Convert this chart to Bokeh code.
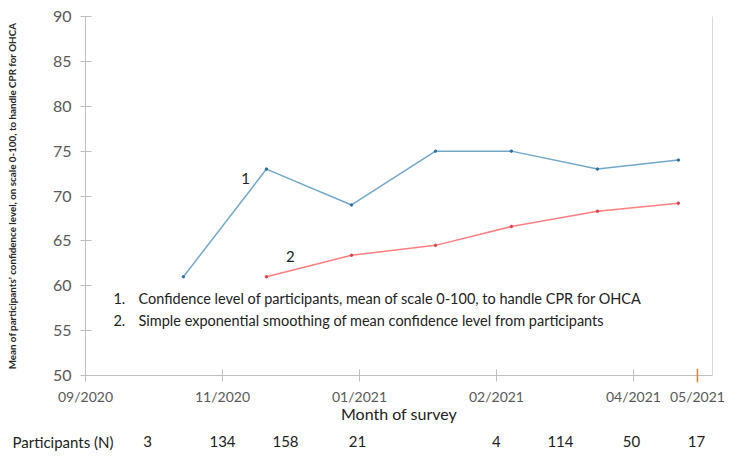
from bokeh.plotting import figure
from bokeh.models import Range1d, LinearAxis, FixedTicker, Arrow
from bokeh.core.properties import value
from bokeh.embed import file_html
from bokeh.resources import INLINE

# ---- data (x in "axis tick units": each tick step = one labelled survey mark)
tick_pos = [0, 1, 2, 3, 4]
tick_labels = ["09/2020", "11/2020", "01/2021", "02/2021", "04/2021"]
extra_tick_pos = 4.467
extra_tick_label = "05/2021"
y_ticks = [50, 55, 60, 65, 70, 75, 80, 85, 90]

conf_x = [0.715, 1.321, 1.942, 2.555, 3.109, 3.737, 4.328]
conf_y = [61.0, 73.0, 69.0, 75.0, 75.0, 73.0, 74.0]

ses_x = [1.321, 1.942, 2.555, 3.109, 3.737, 4.328]
ses_y = [61.0, 63.4, 64.5, 66.6, 68.3, 69.2]

part_x = [0.453, 1.0, 1.46, 1.985, 3.0, 3.467, 3.985, 4.46]
part_n = ["3", "134", "158", "21", "4", "114", "50", "17"]
part_title = "Participants (N)"

legend_lines = [
    "Confidence level of participants, mean of scale 0-100, to handle CPR for OHCA",
    "Simple exponential smoothing of mean confidence level from participants",
]

FONT = "Lato"
AX = "#bfbfbf"
TXT = "#595959"
DARK = "#222222"

# axis extents in data units
X0, X1 = 0.0, 4.577
Y0, Y1 = 50.0, 90.0
# canvas layout (pixels) -> data ranges covering the whole canvas
W, H = 731, 456
L, R, T, B = 85, 712, 16, 375
ux = (R - L) / (X1 - X0)
uy = (B - T) / (Y1 - Y0)

p = figure(width=W, height=H, output_backend="svg", toolbar_location=None,
           x_range=Range1d(X0 - L / ux, X1 + (W - R) / ux),
           y_range=Range1d(Y0 - (H - B) / uy, Y1 + T / uy),
           min_border_left=0, min_border_top=0, min_border_right=0, min_border_bottom=0)
p.outline_line_color = None
p.grid.grid_line_color = None

# x axis
xa = p.xaxis[0]
xa.fixed_location = Y0
xa.bounds = (X0, X1)
xa.ticker = FixedTicker(ticks=tick_pos + [extra_tick_pos])
xa.major_label_overrides = {**{t: l for t, l in zip(tick_pos, tick_labels)}, extra_tick_pos: extra_tick_label}
xa.minor_tick_line_color = None
xa.axis_line_color = AX
xa.major_tick_line_color = AX
xa.major_tick_in = 6
xa.major_tick_out = 6
xa.major_label_standoff = 6
xa.major_label_text_font = FONT
xa.major_label_text_font_size = "14px"
xa.major_label_text_color = TXT
xa.axis_label = "Month of survey"
xa.axis_label_text_font = FONT
xa.axis_label_text_font_size = "16px"
xa.axis_label_text_font_style = "normal"
xa.axis_label_text_color = DARK
xa.axis_label_standoff = -4

# y axis
ya = p.yaxis[0]
ya.fixed_location = X0
ya.bounds = (Y0, Y1)
ya.ticker = FixedTicker(ticks=y_ticks)
ya.minor_tick_line_color = None
ya.axis_line_color = AX
ya.major_tick_line_color = AX
ya.major_tick_in = 6
ya.major_tick_out = 5
ya.major_label_standoff = 9
ya.major_label_text_font = FONT
ya.major_label_text_font_size = "16px"
ya.major_label_text_color = TXT
ya.axis_label = "Mean of participants\u2019 confidence level, on scale 0-100, to handle CPR for OHCA"
ya.axis_label_text_font = FONT
ya.axis_label_text_font_size = "9.8px"
ya.axis_label_text_font_style = "bold"
ya.axis_label_text_color = "#262626"
ya.axis_label_standoff = 32

# right frame line
ra = LinearAxis(ticker=FixedTicker(ticks=[]), axis_line_color="#d9d9d9",
                fixed_location=X1, bounds=(Y0, Y1),
                major_label_text_font_size="0px", major_tick_line_color=None,
                minor_tick_line_color=None)
p.add_layout(ra, "right")

# orange tick for 05/2021
p.add_layout(Arrow(x_start=extra_tick_pos, y_start=Y0 + 0.75, x_end=extra_tick_pos, y_end=Y0 - 0.75,
                   end=None, start=None, line_color="#ed7d31", line_width=1.5))

# series
p.line(conf_x, conf_y, line_color="#74a7c8", line_width=1.5)
p.scatter(conf_x, conf_y, size=2.5, color="#2e6f9e")
p.line(ses_x, ses_y, line_color="#ff8080", line_width=1.5)
p.scatter(ses_x, ses_y, size=2.5, color="#e0404a")

# series tags
p.text(x=[1.168], y=[71.9], text=["1"], text_font=value(FONT), text_font_size="15px",
       text_color=DARK, text_align="center", text_baseline="middle")
p.text(x=[1.496], y=[63.3], text=["2"], text_font=value(FONT), text_font_size="15px",
       text_color=DARK, text_align="center", text_baseline="middle")

# legend-like text
leg_y = [58.56, 56.1]
p.text(x=[0.204, 0.204], y=leg_y, text=["1.", "2."], text_font=value(FONT),
       text_font_size="14.5px", text_color=DARK, text_baseline="middle")
p.text(x=[0.387, 0.387], y=leg_y, text=legend_lines, text_font=value(FONT),
       text_font_size="14.5px", text_color=DARK, text_baseline="middle")

# participants row
part_y = Y0 - (441 - B) / uy
p.text(x=[-0.533], y=[part_y], text=[part_title], text_font=value(FONT), text_font_size="15px",
       text_color=DARK, text_align="left", text_baseline="middle")
p.text(x=part_x, y=[part_y] * len(part_x), text=part_n, text_font=value(FONT),
       text_font_size="15px", text_color=DARK, text_align="center", text_baseline="middle")

open("out.html", "w").write(file_html(p, INLINE))
